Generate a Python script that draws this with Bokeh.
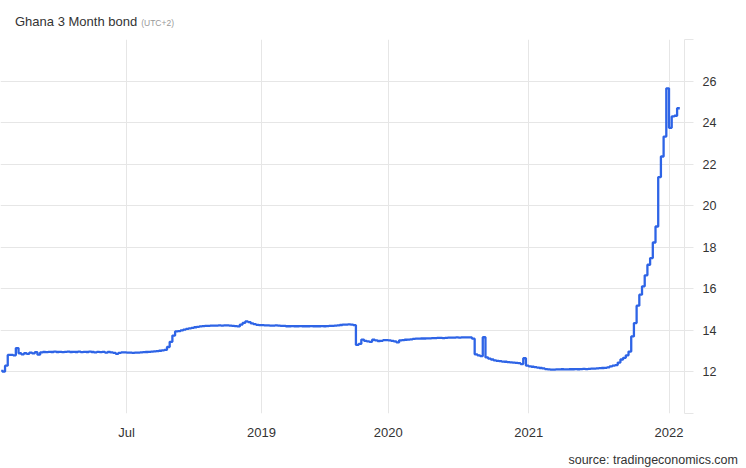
from bokeh.plotting import figure
from bokeh.models import ColumnDataSource, FixedTicker, Range1d, Div
from bokeh.layouts import column
from bokeh.embed import file_html
from bokeh.resources import INLINE

# Ghana 3 Month bond yield, one value per observation (ordinal time axis)
rates = [
    12.10, 12.02, 12.30, 12.82, 12.82, 12.80, 13.15, 12.90, 12.85, 12.90,
    12.87, 12.93, 12.89, 12.95, 12.83, 12.94, 12.96, 12.95, 12.97, 12.96,
    12.98, 12.96, 12.97, 12.95, 12.97, 12.98, 12.96, 12.97, 12.96, 12.98,
    12.95, 12.97, 12.96, 12.98, 12.96, 12.94, 12.97, 12.95, 12.97, 12.93,
    12.96, 12.94, 12.92, 12.87, 12.92, 12.94, 12.94, 12.93, 12.93, 12.92,
    12.93, 12.93, 12.94, 12.95, 12.96, 12.97, 12.98, 12.99, 13.00, 13.02,
    13.04, 13.06, 13.20, 13.45, 13.75, 13.95, 13.96, 14.00, 14.04, 14.07,
    14.10, 14.12, 14.15, 14.17, 14.19, 14.21, 14.22, 14.22, 14.23, 14.23,
    14.23, 14.24, 14.23, 14.24, 14.24, 14.23, 14.22, 14.21, 14.19, 14.28,
    14.36, 14.43, 14.40, 14.34, 14.30, 14.27, 14.25, 14.25, 14.24, 14.24,
    14.23, 14.23, 14.24, 14.23, 14.22, 14.22, 14.20, 14.20, 14.21, 14.20,
    14.20, 14.21, 14.20, 14.20, 14.20, 14.21, 14.20, 14.20, 14.20, 14.21,
    14.20, 14.21, 14.22, 14.22, 14.23, 14.24, 14.26, 14.28, 14.28, 14.29,
    14.28, 14.25, 13.30, 13.35, 13.56, 13.50, 13.47, 13.45, 13.55, 13.52,
    13.49, 13.50, 13.53, 13.53, 13.52, 13.50, 13.47, 13.42, 13.52, 13.53,
    13.55, 13.56, 13.57, 13.59, 13.60, 13.60, 13.61, 13.61, 13.62, 13.62,
    13.63, 13.63, 13.64, 13.64, 13.63, 13.64, 13.65, 13.65, 13.65, 13.66,
    13.65, 13.66, 13.66, 13.66, 13.66, 13.60, 12.85, 12.80, 12.76, 13.67,
    12.70, 12.64, 12.60, 12.56, 12.53, 12.52, 12.50, 12.49, 12.47, 12.46,
    12.45, 12.44, 12.42, 12.38, 12.66, 12.30, 12.27, 12.25, 12.23, 12.21,
    12.19, 12.17, 12.14, 12.12, 12.11, 12.11, 12.12, 12.12, 12.13, 12.12,
    12.12, 12.13, 12.13, 12.14, 12.13, 12.14, 12.15, 12.14, 12.15, 12.16,
    12.16, 12.17, 12.18, 12.19, 12.20, 12.22, 12.27, 12.30, 12.33, 12.45,
    12.60, 12.68, 12.80, 12.98, 13.71, 14.35, 15.19, 15.72, 16.12, 16.65,
    17.16, 17.48, 18.23, 19.00, 21.38, 22.37, 23.33, 25.65, 23.75, 24.30,
    24.33, 24.69,
]
obs = list(range(1, len(rates) + 1))

# first observation of each labelled period
tick_obs = [47, 97, 144, 196, 248]
tick_labels = ["Jul", "2019", "2020", "2021", "2022"]

y_ticks = [10, 12, 14, 16, 18, 20, 22, 24, 26, 28]

title_text = "Ghana 3 Month bond"
tz_text = "(UTC+2)"
source_text = "source: tradingeconomics.com"

FONT = "Liberation Sans"
GRID = "#e6e6e6"

src = ColumnDataSource(data=dict(obs=obs, rate=rates))

p = figure(
    width=746, height=405,
    x_range=Range1d(0.315, 253.74), y_range=Range1d(10, 28),
    y_axis_location="right",
    output_backend="svg", toolbar_location=None,
    min_border_left=0, min_border_right=62,
    min_border_top=1, min_border_bottom=30,
)
p.outline_line_color = None
p.background_fill_color = "white"
p.border_fill_color = "white"

p.step(x="obs", y="rate", source=src, mode="before",
       line_color="#2e64e6", line_width=2.3)

# x axis
p.xaxis.ticker = FixedTicker(ticks=tick_obs)
p.xaxis.major_label_overrides = {t: l for t, l in zip(tick_obs, tick_labels)}
p.xaxis.axis_line_color = None
p.xaxis.major_tick_line_color = None
p.xaxis.minor_tick_line_color = None
p.xaxis.major_label_standoff = 5
p.xaxis.major_label_text_font = FONT
p.xaxis.major_label_text_font_size = "13px"
p.xaxis.major_label_text_color = "#333333"

# y axis (right)
p.yaxis.ticker = FixedTicker(ticks=y_ticks)
p.yaxis.major_label_overrides = {10: "", 28: ""}
p.yaxis.axis_line_color = GRID
p.yaxis.major_tick_line_color = GRID
p.yaxis.major_tick_out = 9
p.yaxis.major_tick_in = 0
p.yaxis.minor_tick_line_color = None
p.yaxis.major_label_standoff = 9
p.yaxis.major_label_text_font = FONT
p.yaxis.major_label_text_font_size = "12.5px"
p.yaxis.major_label_text_color = "#333333"

p.xgrid.grid_line_color = GRID
p.ygrid.grid_line_color = GRID

title_div = Div(
    text=(f'<div style="width:731px;padding:15px 0 0 15px;line-height:13px;'
          f'font-family:\'{FONT}\';white-space:nowrap;">'
          f'<span style="font-size:13px;color:#333333;">{title_text}</span>'
          f'<span style="font-size:8.5px;color:#999999;padding-left:4px;">{tz_text}</span>'
          f'</div>'),
    width=746, height=38, margin=(0, 0, 0, 0),
)
source_div = Div(
    text=(f'<div style="width:738px;padding:11px 0 0 0;text-align:right;'
          f'line-height:12.5px;font-size:12.5px;color:#333333;'
          f'font-family:\'{FONT}\';white-space:nowrap;">{source_text}</div>'),
    width=746, height=25, margin=(0, 0, 0, 0),
)

layout = column(title_div, p, source_div, spacing=0)

open("out.html", "w").write(file_html(layout, INLINE))
